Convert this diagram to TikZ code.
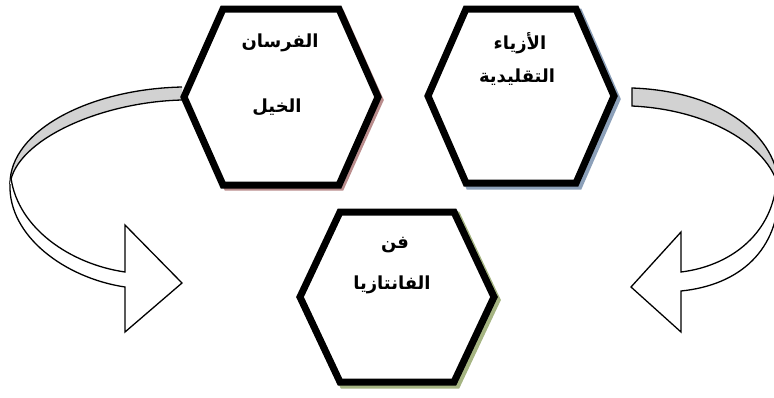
\documentclass[tikz,border=0pt]{standalone}
\usepackage{fontspec}
\newfontfamily\arabicfont[Script=Arabic]{DejaVu Sans}
\TeXXeTstate=1
\newcommand{\artext}[1]{{\arabicfont\bfseries\beginR #1\endR}}
\definecolor{shadowA}{RGB}{185,140,140}
\definecolor{shadowB}{RGB}{140,160,185}
\definecolor{shadowC}{RGB}{165,180,130}
\definecolor{bandgray}{RGB}{210,210,210}
\tikzset{
  hexbox/.style={line width=7pt, line join=miter, draw=black, fill=white},
  hexshadow/.style={line width=7pt, line join=miter},
  band/.style={line width=1.3pt, line join=miter, draw=black},
  lbl/.style={font=\fontsize{18}{21}\selectfont, inner sep=0pt},
}
\begin{document}
\begin{tikzpicture}[x=1pt,y=-1pt]
\useasboundingbox (0,0) rectangle (774,397);
\clip (0,0) rectangle (774,397);

% ---- left curved arrow ----
\coordinate (L1) at (182,87);
\coordinate (L2) at (182,100);
\coordinate (LT) at (10,184);
\coordinate (LS1) at (125,287);
\coordinate (LS2) at (125,272);
\coordinate (LH1) at (125,332);
\coordinate (LH2) at (125,225);
\coordinate (LTip) at (182,283);
\fill[bandgray] (L1) .. controls (90,89) and (10,130) .. (LT)
   .. controls (16,140) and (100,102) .. (L2) -- cycle;
\draw[band] (L1) .. controls (90,89) and (10,130) .. (LT);
\draw[band] (L2) .. controls (100,102) and (16,140) .. (LT);
\draw[band, fill=white] (LT) .. controls (8,236) and (65,278) .. (LS1) -- (LH1) -- (LTip) -- (LH2) -- (LS2)
   .. controls (70,264) and (18,228) .. (11,178);

% ---- right curved arrow ----
\coordinate (R1) at (632,88);
\coordinate (R2) at (632,106);
\coordinate (RT) at (779,190);
\coordinate (RS1) at (681,291);
\coordinate (RS2) at (681,272);
\coordinate (RH1) at (681,332);
\coordinate (RH2) at (681,232);
\coordinate (RTip) at (631,287);
\draw[band, fill=bandgray] (R1) .. controls (720,91) and (779,135) .. (RT)
   .. controls (772,150) and (715,110) .. (R2) -- cycle;
\draw[band, fill=white] (RT) .. controls (779,250) and (740,285) .. (RS1) -- (RH1) -- (RTip) -- (RH2) -- (RS2)
   .. controls (730,266) and (770,235) .. (776,186);

% ---- hexagon 1 ----
\begin{scope}[shift={(284,100)}]
\draw[hexshadow, draw=shadowA] (-96,0) -- (-57,-87) -- (57,-87) -- (96,0) -- (57,87) -- (-57,87) -- cycle;
\end{scope}
\begin{scope}[shift={(281,97)}]
\draw[hexbox] (-97,0) -- (-58,-88) -- (58,-88) -- (97,0) -- (58,88) -- (-58,88) -- cycle;
\end{scope}
% ---- hexagon 2 ----
\begin{scope}[shift={(524,99)}]
\draw[hexshadow, draw=shadowB] (-93,0) -- (-55,-87) -- (55,-87) -- (93,0) -- (55,87) -- (-55,87) -- cycle;
\end{scope}
\begin{scope}[shift={(521,96)}]
\draw[hexbox] (-93,0) -- (-55,-87) -- (55,-87) -- (93,0) -- (55,87) -- (-55,87) -- cycle;
\end{scope}
% ---- hexagon 3 ----
\begin{scope}[shift={(400,300)}]
\draw[hexshadow, draw=shadowC] (-97,0) -- (-57,-85) -- (57,-85) -- (97,0) -- (57,85) -- (-57,85) -- cycle;
\end{scope}
\begin{scope}[shift={(397,297)}]
\draw[hexbox] (-97,0) -- (-57,-85) -- (57,-85) -- (97,0) -- (57,85) -- (-57,85) -- cycle;
\end{scope}

% ---- labels ----
\node[lbl] (h1a) at (280,43) {\artext{الفرسان}};
\node[lbl] (h1b) at (277,107) {\artext{الخيل}};
\node[lbl] (h2a) at (520,43) {\artext{الأزياء}};
\node[lbl] (h2b) at (517,77) {\artext{التقليدية}};
\node[lbl] (h3a) at (395,245) {\artext{فن}};
\node[lbl] (h3b) at (392,285) {\artext{الفانتازيا}};
\end{tikzpicture}
\end{document}
